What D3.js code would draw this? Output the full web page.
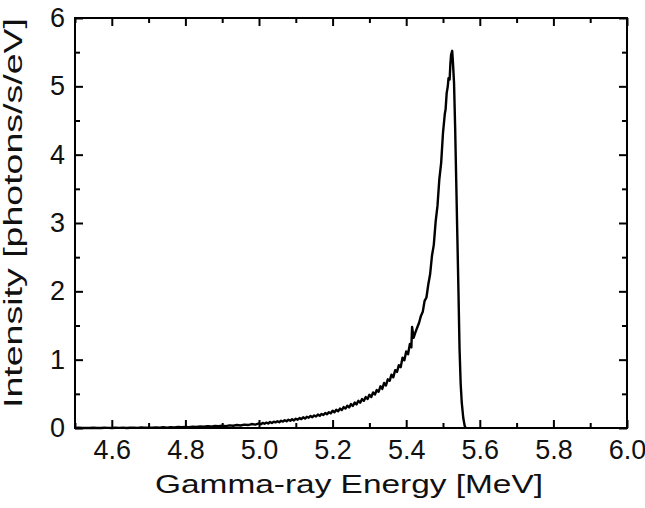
<!DOCTYPE html>
<html>
<head>
<meta charset="utf-8">
<script src="https://cdn.jsdelivr.net/npm/d3@7"></script>
<style>
  body { margin: 0; background: #ffffff; }
  .axisText { font-family: "Liberation Sans", Arial, sans-serif; fill: #111; }
</style>
</head>
<body>
<div id="chart"></div>
<script>
// spectrum (energy in MeV, intensity in photons/s/eV)
var tailEnergy = [4.50, 4.51, 4.52, 4.53, 4.54, 4.55, 4.56, 4.57, 4.58, 4.59,
  4.60, 4.61, 4.62, 4.63, 4.64, 4.65, 4.66, 4.67, 4.68, 4.69,
  4.70, 4.71, 4.72, 4.73, 4.74, 4.75, 4.76, 4.77, 4.78, 4.79,
  4.80, 4.81, 4.82, 4.83, 4.84, 4.85, 4.86, 4.87, 4.88, 4.89,
  4.90, 4.91, 4.92, 4.93, 4.94, 4.95, 4.96, 4.97, 4.98, 4.99];
var tailIntensity = [0.000, 0.003, 0.000, 0.002, 0.000, 0.004, 0.001, 0.000, 0.003, 0.002,
  0.000, 0.004, 0.002, 0.006, 0.001, 0.003, 0.005, 0.002, 0.008, 0.004,
  0.006, 0.003, 0.009, 0.005, 0.010, 0.006, 0.012, 0.008, 0.014, 0.010,
  0.016, 0.012, 0.019, 0.015, 0.022, 0.018, 0.026, 0.021, 0.030, 0.025,
  0.034, 0.028, 0.038, 0.033, 0.044, 0.037, 0.050, 0.043, 0.058, 0.050];

var riseEnergy = [5.000, 5.005, 5.010, 5.015, 5.020, 5.025, 5.030, 5.035, 5.040, 5.045,
  5.050, 5.055, 5.060, 5.065, 5.070, 5.075, 5.080, 5.085, 5.090, 5.095,
  5.100, 5.105, 5.110, 5.115, 5.120, 5.125, 5.130, 5.135, 5.140, 5.145,
  5.150, 5.155, 5.160, 5.165, 5.170, 5.175, 5.180, 5.185, 5.190, 5.195,
  5.200, 5.205, 5.210, 5.215, 5.220, 5.225, 5.230, 5.235, 5.240, 5.245,
  5.250, 5.255, 5.260, 5.265, 5.270, 5.275, 5.280, 5.285, 5.290, 5.295,
  5.300, 5.305, 5.310, 5.315, 5.320, 5.325, 5.330, 5.335, 5.340, 5.345,
  5.350, 5.355, 5.360, 5.365, 5.370, 5.375, 5.380, 5.385, 5.390, 5.395,
  5.400, 5.405, 5.410, 5.414, 5.416, 5.420, 5.425, 5.430, 5.435, 5.440, 5.445,
  5.450, 5.455, 5.460, 5.465, 5.470, 5.475, 5.480, 5.485, 5.490, 5.495,
  5.500, 5.505, 5.507, 5.510, 5.513, 5.515, 5.518, 5.520, 5.522, 5.525];
var riseIntensity = [0.068, 0.055, 0.074, 0.062, 0.079, 0.066, 0.088, 0.074, 0.092, 0.082,
  0.098, 0.085, 0.106, 0.094, 0.114, 0.098, 0.120, 0.106, 0.128, 0.110,
  0.136, 0.122, 0.146, 0.130, 0.156, 0.138, 0.164, 0.150, 0.176, 0.158,
  0.184, 0.168, 0.196, 0.178, 0.206, 0.190, 0.220, 0.200, 0.232, 0.214,
  0.252, 0.230, 0.266, 0.246, 0.284, 0.262, 0.306, 0.284, 0.326, 0.300,
  0.350, 0.322, 0.372, 0.346, 0.398, 0.370, 0.424, 0.398, 0.452, 0.424,
  0.486, 0.454, 0.520, 0.490, 0.556, 0.530, 0.610, 0.572, 0.660, 0.622,
  0.712, 0.690, 0.780, 0.742, 0.846, 0.820, 0.920, 0.890, 1.030, 0.990,
  1.120, 1.080, 1.230, 1.180, 1.480, 1.320, 1.400, 1.470, 1.540, 1.640, 1.700,
  1.860, 1.910, 2.100, 2.250, 2.520, 2.680, 3.020, 3.250, 3.640, 3.880,
  4.320, 4.600, 4.660, 4.900, 5.000, 5.120, 5.100, 5.320, 5.460, 5.520];

var fallEnergy = [5.527, 5.530, 5.533, 5.536, 5.539, 5.542, 5.545, 5.548, 5.551, 5.555, 5.559, 5.562];
var fallIntensity = [5.350, 5.050, 4.400, 3.600, 2.800, 2.000, 1.150, 0.650, 0.370, 0.150, 0.030, 0.000];

var xMajor = [4.6, 4.8, 5.0, 5.2, 5.4, 5.6, 5.8, 6.0];
var xMinor = [4.5, 4.7, 4.9, 5.1, 5.3, 5.5, 5.7, 5.9];
var yMajor = [0, 1, 2, 3, 4, 5, 6];
var yMinor = [0.5, 1.5, 2.5, 3.5, 4.5, 5.5];

var width = 645;
var height = 508;
var plotLeft = 75;
var plotRight = 627;
var plotTop = 18;
var plotBottom = 428;

var svg = d3
  .select("#chart")
  .append("svg")
  .attr("width", width)
  .attr("height", height);

var xScale = d3.scaleLinear().domain([4.5, 6.0]).range([plotLeft, plotRight]);
var yScale = d3.scaleLinear().domain([0, 6]).range([plotBottom, plotTop]);

var spectrum = [];
function addPoints(es, is) {
  for (var i = 0; i < es.length; i++) {
    spectrum.push({ e: es[i], v: is[i] });
  }
}
addPoints(tailEnergy, tailIntensity);
addPoints(riseEnergy, riseIntensity);
addPoints(fallEnergy, fallIntensity);

// ticks pointing inward on all four sides
function styleAxis(g) {
  g.select(".domain").remove();
  g.selectAll(".tick line").attr("stroke", "#000").attr("stroke-width", 2);
  g.selectAll(".tick text")
    .attr("class", "axisText")
    .style("font-size", "27px");
}

svg.append("g")
  .attr("transform", "translate(0," + plotBottom + ")")
  .call(d3.axisBottom(xScale).tickValues(xMajor).tickFormat(d3.format(".1f")).tickSize(-8).tickPadding(12))
  .call(styleAxis);
svg.append("g")
  .attr("transform", "translate(0," + plotBottom + ")")
  .call(d3.axisBottom(xScale).tickValues(xMinor).tickFormat("").tickSize(-5))
  .call(styleAxis);
svg.append("g")
  .attr("transform", "translate(0," + plotTop + ")")
  .call(d3.axisTop(xScale).tickValues(xMajor).tickFormat("").tickSize(-8))
  .call(styleAxis);
svg.append("g")
  .attr("transform", "translate(0," + plotTop + ")")
  .call(d3.axisTop(xScale).tickValues(xMinor).tickFormat("").tickSize(-5))
  .call(styleAxis);

svg.append("g")
  .attr("transform", "translate(" + plotLeft + ",0)")
  .call(d3.axisLeft(yScale).tickValues(yMajor).tickFormat(d3.format("d")).tickSize(-8).tickPadding(10))
  .call(styleAxis);
svg.append("g")
  .attr("transform", "translate(" + plotLeft + ",0)")
  .call(d3.axisLeft(yScale).tickValues(yMinor).tickFormat("").tickSize(-5))
  .call(styleAxis);
svg.append("g")
  .attr("transform", "translate(" + plotRight + ",0)")
  .call(d3.axisRight(yScale).tickValues(yMajor).tickFormat("").tickSize(-8))
  .call(styleAxis);
svg.append("g")
  .attr("transform", "translate(" + plotRight + ",0)")
  .call(d3.axisRight(yScale).tickValues(yMinor).tickFormat("").tickSize(-5))
  .call(styleAxis);

// frame
svg.append("rect")
  .attr("x", plotLeft)
  .attr("y", plotTop)
  .attr("width", plotRight - plotLeft)
  .attr("height", plotBottom - plotTop)
  .attr("fill", "none")
  .attr("stroke", "#000")
  .attr("stroke-width", 2);

var line = d3.line()
  .x(function(d) { return xScale(d.e); })
  .y(function(d) { return yScale(d.v); });

svg.append("path")
  .datum(spectrum)
  .attr("d", line)
  .attr("fill", "none")
  .attr("stroke", "#000")
  .attr("stroke-width", 2.4)
  .attr("stroke-linejoin", "round");

// axis titles
svg.append("text")
  .attr("class", "axisText")
  .attr("x", 349)
  .attr("y", 493)
  .attr("text-anchor", "middle")
  .attr("textLength", 388)
  .attr("lengthAdjust", "spacingAndGlyphs")
  .style("font-size", "25px")
  .text("Gamma-ray Energy [MeV]");

svg.append("text")
  .attr("class", "axisText")
  .attr("transform", "translate(22," + 213 + ")rotate(-90)")
  .attr("text-anchor", "middle")
  .attr("textLength", 390)
  .attr("lengthAdjust", "spacingAndGlyphs")
  .style("font-size", "25px")
  .text("Intensity [photons/s/eV]");
</script>
</body>
</html>
